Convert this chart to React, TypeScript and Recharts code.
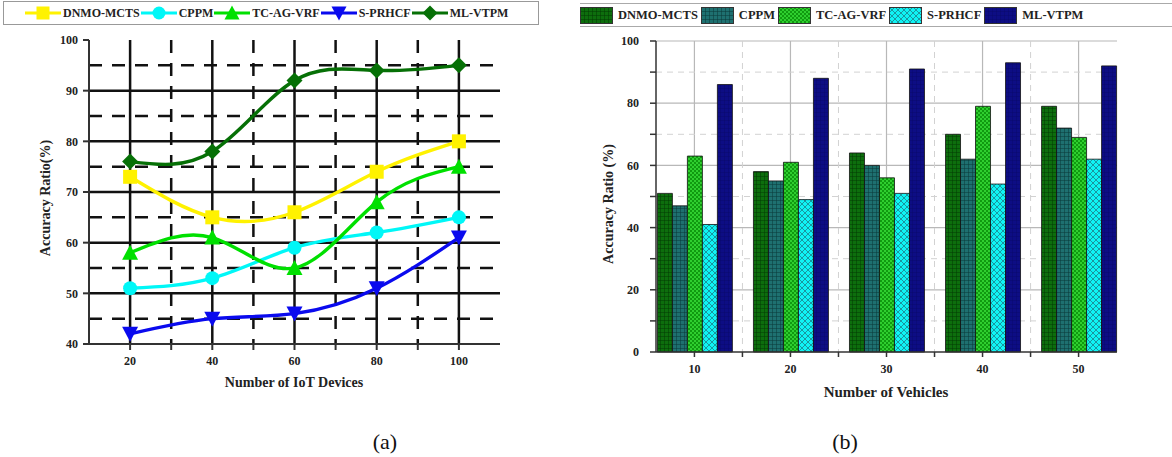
import React from "react";
import {
  LineChart,
  Line,
  BarChart,
  Bar,
  XAxis,
  YAxis,
  CartesianGrid,
} from "recharts";

// ---- chart (a): accuracy vs number of IoT devices ----
const devices = [20, 40, 60, 80, 100];
const lineDnmo = [73, 65, 66, 74, 80];
const lineCppm = [51, 53, 59, 62, 65];
const lineTcag = [58, 61, 55, 68, 75];
const linePrhcf = [42, 45, 46, 51, 61];
const lineMlvtpm = [76, 78, 92, 94, 95];

// ---- chart (b): accuracy vs number of vehicles ----
const vehicles = [10, 20, 30, 40, 50];
const barDnmo = [51, 58, 64, 70, 79];
const barCppm = [47, 55, 60, 62, 72];
const barTcag = [63, 61, 56, 79, 69];
const barPrhcf = [41, 49, 51, 54, 62];
const barMlvtpm = [86, 88, 91, 93, 92];

const names = ["DNMO-MCTS", "CPPM", "TC-AG-VRF", "S-PRHCF", "ML-VTPM"];
const keys = ["dnmo", "cppm", "tcag", "prhcf", "mlvtpm"];

const lineData = devices.map((d, i) => ({
  x: d,
  dnmo: lineDnmo[i],
  cppm: lineCppm[i],
  tcag: lineTcag[i],
  prhcf: linePrhcf[i],
  mlvtpm: lineMlvtpm[i],
}));

const barData = vehicles.map((v, i) => ({
  x: v,
  dnmo: barDnmo[i],
  cppm: barCppm[i],
  tcag: barTcag[i],
  prhcf: barPrhcf[i],
  mlvtpm: barMlvtpm[i],
}));

const lineColors = ["#fff200", "#00f7f7", "#00e000", "#0a0aee", "#067006"];
const shapes = ["square", "circle", "triangle", "down", "diamond"];
const patternIds = ["pDnmo", "pCppm", "pTcag", "pPrhcf", "pMl"];

const serif = "'Liberation Serif', 'Times New Roman', serif";

function Marker({ cx, cy, shape, color, s = 14 }: any) {
  const h = s / 2;
  if (shape === "square")
    return <rect x={cx - h} y={cy - h} width={s} height={s} fill={color} />;
  if (shape === "circle") return <circle cx={cx} cy={cy} r={h} fill={color} />;
  if (shape === "triangle")
    return (
      <polygon
        points={`${cx},${cy - h - 1} ${cx + h + 1},${cy + h} ${cx - h - 1},${cy + h}`}
        fill={color}
      />
    );
  if (shape === "down")
    return (
      <polygon
        points={`${cx - h - 1},${cy - h} ${cx + h + 1},${cy - h} ${cx},${cy + h + 1}`}
        fill={color}
      />
    );
  return (
    <polygon
      points={`${cx},${cy - h - 1} ${cx + h + 1},${cy} ${cx},${cy + h + 1} ${cx - h - 1},${cy}`}
      fill={color}
    />
  );
}

const tickStyle = { fontFamily: serif, fontWeight: 700, fontSize: 12, fill: "#222" };

const xTick = (step: number) => (props: any) => {
  const { x, y, payload } = props;
  if (payload.value % step !== 0) return <g />;
  return (
    <text x={x} y={y} dy="0.71em" textAnchor="middle" style={tickStyle}>
      {payload.value}
    </text>
  );
};

const yTick = (step: number) => (props: any) => {
  const { x, y, payload } = props;
  if (payload.value % step !== 0) return <g />;
  return (
    <text x={x} y={y} dy="0.355em" textAnchor="end" style={tickStyle}>
      {payload.value}
    </text>
  );
};

function LineLegend() {
  return (
    <div
      style={{
        position: "absolute",
        left: 3,
        top: 1,
        width: 513,
        height: 22,
        border: "1px solid #999",
        display: "flex",
        alignItems: "center",
        paddingLeft: 21,
        boxSizing: "content-box",
        fontFamily: serif,
        fontWeight: 700,
        fontSize: 12,
        color: "#222",
      }}
    >
      {names.map((n, i) => (
        <div key={n} style={{ display: "flex", alignItems: "center" }}>
          <svg width={36} height={20}>
            <line x1={0} y1={10} x2={36} y2={10} stroke={lineColors[i]} strokeWidth={3} />
            <Marker cx={18} cy={10} shape={shapes[i]} color={lineColors[i]} s={13} />
          </svg>
          <span style={{ marginLeft: 2, marginRight: 1 }}>{n}</span>
        </div>
      ))}
    </div>
  );
}

function BarLegend() {
  return (
    <div
      style={{
        position: "absolute",
        left: 580,
        top: 3,
        width: 592,
        height: 22,
        borderTop: "1px solid #aaa",
        borderBottom: "1px solid #aaa",
        display: "flex",
        alignItems: "center",
        fontFamily: serif,
        fontWeight: 700,
        fontSize: 12.5,
        color: "#222",
      }}
    >
      {names.map((n, i) => (
        <div key={n} style={{ display: "flex", alignItems: "center" }}>
          <svg width={33} height={17}>
            <rect x={0.5} y={0.5} width={32} height={16} fill={`url(#${patternIds[i]})`} stroke="#333" />
          </svg>
          <span style={{ marginLeft: 5, marginRight: 3 }}>{n}</span>
        </div>
      ))}
    </div>
  );
}

export default function App() {
  return (
    <div
      style={{
        position: "absolute",
        left: 0,
        top: 0,
        width: 1172,
        height: 457,
        background: "#fff",
        overflow: "hidden",
      }}
    >
      {/* chart (a) */}
      <div style={{ position: "absolute", left: 0, top: 0 }}>
        <LineChart
          width={520}
          height={400}
          data={lineData}
          margin={{ top: 40, right: 20, left: 0, bottom: 26 }}
        >
          <CartesianGrid
            stroke="#111"
            strokeWidth={2.5}
            horizontalValues={[50, 60, 70, 80, 90]}
            verticalValues={[20, 40, 60, 80, 100]}
          />
          <CartesianGrid
            stroke="#111"
            strokeWidth={2.5}
            strokeDasharray="13 10"
            horizontalValues={[45, 55, 65, 75, 85, 95]}
            verticalValues={[30, 50, 70, 90]}
          />
          <XAxis
            dataKey="x"
            type="number"
            domain={[10, 110]}
            ticks={[20, 30, 40, 50, 60, 70, 80, 90, 100]}
            tick={xTick(20)}
            height={30}
            tickSize={6}
            tickMargin={6}
            axisLine={{ stroke: "#333", strokeWidth: 2 }}
            tickLine={{ stroke: "#333", strokeWidth: 2 }}
          />
          <YAxis
            type="number"
            domain={[40, 100]}
            ticks={[40, 50, 60, 70, 80, 90, 100]}
            tick={yTick(10)}
            width={89}
            tickSize={6}
            tickMargin={5}
            axisLine={{ stroke: "#333", strokeWidth: 2 }}
            tickLine={{ stroke: "#333", strokeWidth: 2 }}
          />
          {keys.map((k, i) => (
            <Line
              key={k}
              dataKey={k}
              name={names[i]}
              type="natural"
              stroke={lineColors[i]}
              strokeWidth={3.4}
              isAnimationActive={false}
              activeDot={false}
              dot={(p: any) => (
                <Marker
                  key={`${k}-${p.index}`}
                  cx={p.cx}
                  cy={p.cy}
                  shape={shapes[i]}
                  color={lineColors[i]}
                  s={14}
                />
              )}
            />
          ))}
        </LineChart>
      </div>

      {/* chart (b) */}
      <div style={{ position: "absolute", left: 580, top: 0 }}>
        <BarChart
          width={592}
          height={400}
          data={barData}
          margin={{ top: 41, right: 55, left: 0, bottom: 18 }}
          barGap={0}
        >
          <defs>
            <pattern id="pDnmo" width={4} height={4} patternUnits="userSpaceOnUse">
              <rect width={4} height={4} fill="#0d6e0d" />
              <path d="M0 0H4M0 0V4" stroke="#023a02" strokeWidth={1} />
            </pattern>
            <pattern id="pCppm" width={4} height={4} patternUnits="userSpaceOnUse">
              <rect width={4} height={4} fill="#1e7070" />
              <path d="M0 0H4M0 0V4" stroke="#0a3838" strokeWidth={1} />
            </pattern>
            <pattern id="pTcag" width={4} height={4} patternUnits="userSpaceOnUse">
              <rect width={4} height={4} fill="#2fcf2f" />
              <rect width={2} height={2} fill="#109a10" />
              <rect x={2} y={2} width={2} height={2} fill="#109a10" />
            </pattern>
            <pattern id="pPrhcf" width={6} height={6} patternUnits="userSpaceOnUse">
              <rect width={6} height={6} fill="#10f4f4" />
              <path d="M0 0L6 6M6 0L0 6" stroke="#1a8c95" strokeWidth={0.9} />
            </pattern>
            <pattern id="pMl" width={4} height={4} patternUnits="userSpaceOnUse">
              <rect width={4} height={4} fill="#0d0d84" />
              <path d="M0 0H4M0 0V4" stroke="#06065e" strokeWidth={0.6} />
            </pattern>
          </defs>
          <CartesianGrid
            stroke="#b8b8b8"
            strokeWidth={1.2}
            horizontalValues={[20, 40, 60, 80, 100]}
            verticalValues={[10, 20, 30, 40, 50]}
          />
          <CartesianGrid
            stroke="#d2d2d2"
            strokeWidth={1}
            strokeDasharray="6 5"
            horizontalValues={[10, 30, 50, 70, 90]}
            verticalValues={[15, 25, 35, 45]}
          />
          <XAxis
            dataKey="x"
            type="number"
            domain={[6, 54]}
            ticks={[10, 15, 20, 25, 30, 35, 40, 45, 50]}
            tick={xTick(10)}
            height={30}
            tickSize={5}
            tickMargin={7}
            axisLine={{ stroke: "#333", strokeWidth: 1.5 }}
            tickLine={{ stroke: "#333", strokeWidth: 1.5 }}
          />
          <YAxis
            type="number"
            domain={[0, 100]}
            ticks={[0, 10, 20, 30, 40, 50, 60, 70, 80, 90, 100]}
            tick={yTick(20)}
            width={76}
            tickSize={6}
            tickMargin={11}
            axisLine={{ stroke: "#333", strokeWidth: 1.5 }}
            tickLine={{ stroke: "#333", strokeWidth: 1.5 }}
          />
          {keys.map((k, i) => (
            <Bar
              key={k}
              dataKey={k}
              name={names[i]}
              barSize={15}
              fill={`url(#${patternIds[i]})`}
              stroke="#111"
              strokeWidth={0.8}
              isAnimationActive={false}
            />
          ))}
        </BarChart>
      </div>

      <LineLegend />
      <BarLegend />

      {/* axis titles and captions */}
      <svg
        width={1172}
        height={457}
        style={{ position: "absolute", left: 0, top: 0, pointerEvents: "none" }}
      >
        <g style={{ fontFamily: serif, fontWeight: 700, fill: "#222" }}>
          <text
            x={45}
            y={198}
            fontSize={14}
            textAnchor="middle"
            dominantBaseline="central"
            transform="rotate(-90 45 198)"
          >
            Accuracy Ratio(%)
          </text>
          <text x={294} y={382} fontSize={14} textAnchor="middle" dominantBaseline="central">
            Number of IoT Devices
          </text>
          <text
            x={608}
            y={204}
            fontSize={14}
            textAnchor="middle"
            dominantBaseline="central"
            transform="rotate(-90 608 204)"
          >
            Accuracy Ratio (%)
          </text>
          <text x={886} y={392} fontSize={15} textAnchor="middle" dominantBaseline="central">
            Number of Vehicles
          </text>
        </g>
        <g style={{ fontFamily: serif, fill: "#111" }}>
          <text x={385} y={441} fontSize={22} textAnchor="middle" dominantBaseline="central">
            (a)
          </text>
          <text x={845} y={441} fontSize={22} textAnchor="middle" dominantBaseline="central">
            (b)
          </text>
        </g>
      </svg>
    </div>
  );
}
